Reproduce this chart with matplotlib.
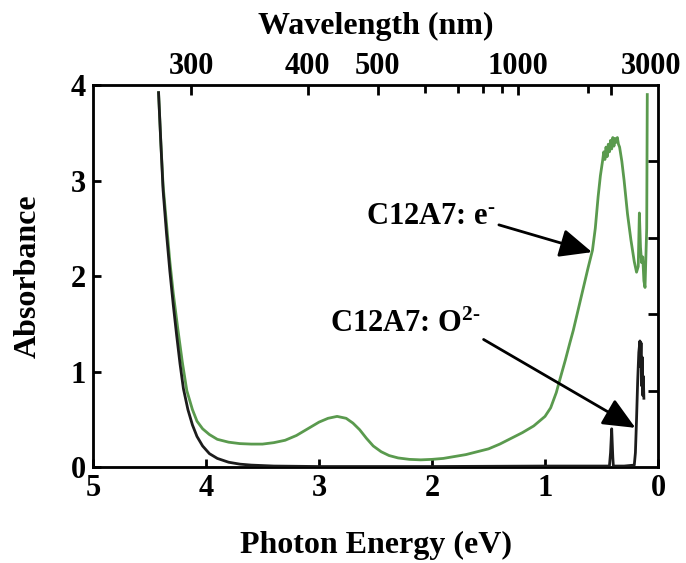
import matplotlib
matplotlib.use("Agg")
import matplotlib.pyplot as plt
from matplotlib.transforms import ScaledTranslation

plt.rcParams['font.family'] = ['Liberation Serif', 'DejaVu Serif']
plt.rcParams['font.weight'] = 'bold'
plt.rcParams['mathtext.fontset'] = 'custom'
plt.rcParams['mathtext.rm'] = 'Liberation Serif:bold'
plt.rcParams['mathtext.bf'] = 'Liberation Serif:bold'
plt.rcParams['mathtext.it'] = 'Liberation Serif:bold'

# C12A7:e- absorption spectrum (photon energy in eV, absorbance)
electride_energy = [4.42, 4.40, 4.38, 4.35, 4.32, 4.29, 4.25, 4.21, 4.17, 4.12, 4.08, 4.03,
                    3.97, 3.90, 3.80, 3.70, 3.60, 3.50, 3.40, 3.30, 3.20, 3.10, 3.00, 2.92,
                    2.84, 2.76, 2.70, 2.64, 2.58, 2.52, 2.45, 2.38, 2.30, 2.20, 2.10, 2.00,
                    1.90, 1.80, 1.70, 1.60, 1.50, 1.40, 1.30, 1.20, 1.10, 1.04, 1.00, 0.95,
                    0.90, 0.87, 0.82, 0.78, 0.75, 0.70, 0.66, 0.62, 0.58, 0.555, 0.53, 0.51,
                    0.49, 0.48, 0.47, 0.46, 0.45, 0.44, 0.43, 0.42, 0.41, 0.40, 0.39, 0.38,
                    0.37, 0.36, 0.35, 0.34, 0.32, 0.30, 0.27, 0.24, 0.21, 0.19, 0.175, 0.165,
                    0.155, 0.145, 0.135, 0.125, 0.115, 0.10, 0.095]
electride_abs = [3.92, 3.40, 2.95, 2.55, 2.15, 1.82, 1.45, 1.10, 0.80, 0.60, 0.48, 0.40,
                 0.34, 0.29, 0.26, 0.245, 0.24, 0.24, 0.255, 0.28, 0.33, 0.40, 0.47, 0.51,
                 0.53, 0.51, 0.46, 0.39, 0.30, 0.22, 0.16, 0.12, 0.095, 0.08, 0.075, 0.08,
                 0.09, 0.11, 0.13, 0.16, 0.19, 0.24, 0.30, 0.36, 0.43, 0.49, 0.53, 0.62,
                 0.78, 0.91, 1.12, 1.30, 1.43, 1.68, 1.88, 2.08, 2.27, 2.50, 2.83, 3.05,
                 3.21, 3.30, 3.22, 3.35, 3.25, 3.38, 3.30, 3.42, 3.33, 3.45, 3.36, 3.44,
                 3.40, 3.45, 3.38, 3.35, 3.20, 3.00, 2.65, 2.38, 2.15, 2.04, 2.10, 2.66,
                 2.30, 2.14, 2.20, 1.95, 1.88, 2.50, 3.90]

# C12A7:O2- absorption spectrum
oxide_energy = [4.42, 4.40, 4.38, 4.35, 4.32, 4.29, 4.26, 4.23, 4.20, 4.16, 4.12, 4.08,
                4.03, 3.97, 3.90, 3.80, 3.70, 3.60, 3.40, 3.00, 2.00, 1.00, 0.50, 0.43,
                0.42, 0.41, 0.40, 0.395, 0.30, 0.21, 0.20, 0.19, 0.18, 0.17, 0.16, 0.155,
                0.15, 0.145, 0.14, 0.135, 0.13, 0.125]
oxide_abs = [3.92, 3.40, 2.90, 2.45, 2.05, 1.70, 1.38, 1.08, 0.82, 0.60, 0.44, 0.32,
             0.22, 0.14, 0.09, 0.05, 0.03, 0.02, 0.01, 0.005, 0.005, 0.01, 0.01, 0.01,
             0.15, 0.40, 0.10, 0.01, 0.01, 0.02, 0.15, 0.50, 0.90, 1.20, 1.32, 1.05,
             1.30, 0.85, 1.15, 0.75, 0.95, 0.72]

energy_ticks = [5, 4, 3, 2, 1, 0]
abs_ticks = [0, 1, 2, 3, 4]
wavelength_major = [300, 400, 500, 1000, 3000]
wavelength_minor = [600, 700, 800, 900, 2000]
HC = 1239.84  # eV*nm

fig = plt.figure(figsize=(6.86, 5.63), dpi=100)
ax = fig.add_axes([0.1356, 0.1705, 0.8236, 0.6785])

green = '#5a9a4e'
ax.plot(electride_energy, electride_abs, color=green, lw=2.0, zorder=3)
ax.plot(oxide_energy, oxide_abs, color='#1c1c1c', lw=2.0, zorder=4)

ax.set_xlim(5, 0)
ax.set_ylim(0, 4)
ax.set_xticks(energy_ticks)
ax.set_yticks(abs_ticks)
ax.tick_params(axis='both', direction='in', length=6, width=2, labelsize=22, pad=5)
for s in ax.spines.values():
    s.set_linewidth(2)

ax.set_xlabel('Photon Energy (eV)', fontsize=23, fontweight='bold', labelpad=20)
ax.set_ylabel('Absorbance', fontsize=23, fontweight='bold', labelpad=20)

# wavelength scale on top
top = ax.twiny()
top.set_xlim(ax.get_xlim())
top.set_xticks([HC / w for w in wavelength_major])
top.set_xticklabels([str(w) for w in wavelength_major])
top.set_xticks([HC / w for w in wavelength_minor], minor=True)
top.tick_params(axis='x', which='major', direction='in', length=7, width=2, labelsize=22, pad=3)
top.tick_params(axis='x', which='minor', direction='in', length=6, width=2)
top.set_xlabel('Wavelength (nm)', fontsize=23, fontweight='bold', labelpad=13)
# the last wavelength label sits against the right edge
last = top.get_xticklabels()[-1]
last.set_transform(last.get_transform() + ScaledTranslation(0.40, 0, fig.dpi_scale_trans))

# unlabelled ticks on the right edge
right = ax.twinx()
right.set_ylim(0, 5)
right.set_yticks([1, 2, 3, 4])
right.set_yticklabels([])
right.tick_params(axis='y', direction='in', length=7, width=2)

arrow = dict(arrowstyle='-|>,head_length=0.9,head_width=0.4', color='black', lw=2,
             shrinkA=0, shrinkB=0)
ax.annotate('C12A7: e$^{\\text{-}}$', xy=(0.584, 2.25), xytext=(2.58, 2.62),
            fontsize=22, fontweight='bold', va='center', ha='left',
            arrowprops=dict(arrow, relpos=(1.0, 0.25)), zorder=6)
ax.annotate('C12A7: O$^{2\\text{-}}$', xy=(0.20, 0.41), xytext=(2.90, 1.49),
            fontsize=22, fontweight='bold', va='center', ha='left',
            arrowprops=dict(arrow, relpos=(1.0, 0.05)), zorder=6)

fig.savefig('out.png', dpi=100)
